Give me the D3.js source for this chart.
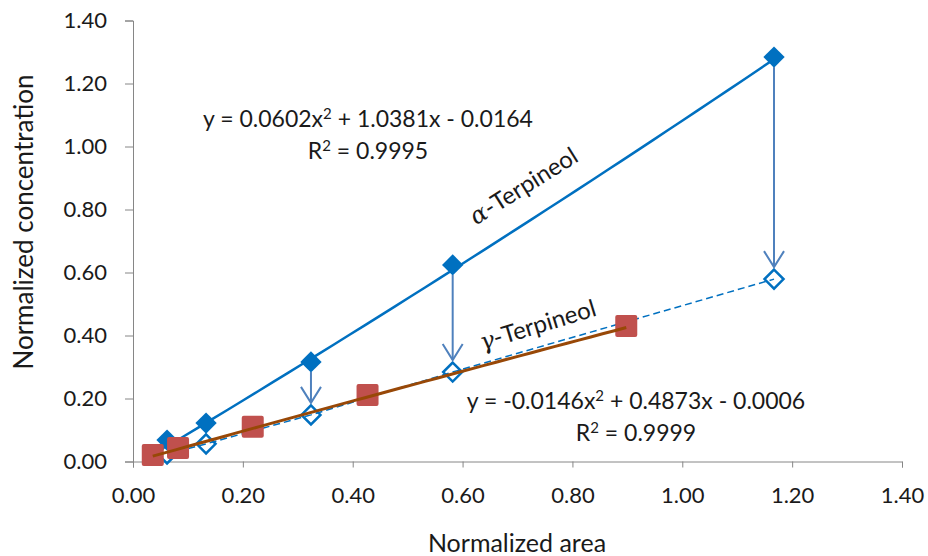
<!DOCTYPE html>
<html>
<head>
<meta charset="utf-8">
<script src="https://cdn.jsdelivr.net/npm/d3@7"></script>
<style>
  body { margin: 0; background: #fff; }
  text { font-family: Lato, "Open Sans", sans-serif; fill: #1a1a1a; }
  .axis path, .axis line { stroke: #868686; }
</style>
</head>
<body>
<div class="canvas"></div>
<script>
// DATA
const xTicks = [0, 0.2, 0.4, 0.6, 0.8, 1.0, 1.2, 1.4];
const yTicks = [0, 0.2, 0.4, 0.6, 0.8, 1.0, 1.2, 1.4];

// alpha-Terpineol: filled diamonds (before) and open diamonds (after)
const areaAlpha = [0.062, 0.133, 0.324, 0.582, 1.167];
const concAlpha = [0.068, 0.122, 0.316, 0.624, 1.284];
const concAlphaShift = [0.024, 0.056, 0.148, 0.284, 0.579];
const arrowIdx = [2, 3, 4];

// gamma-Terpineol: red squares
const areaGamma = [0.036, 0.082, 0.218, 0.427, 0.898];
const concGamma = [0.021, 0.043, 0.110, 0.211, 0.430];

// trendline coefficients as printed (a x^2 + b x + c)
const fitAlpha = [0.0602, 1.0381, -0.0164];
const fitGamma = [-0.0146, 0.4873, -0.0006];

const W = 928, H = 556;

const svg = d3.select(".canvas")
.append("svg")
.attr("width", W)
.attr("height", H);

// SCALES
const xScale = d3.scaleLinear().domain([0, 1.4]).range([133, 902]);
const yScale = d3.scaleLinear().domain([0, 1.4]).range([461.5, 20.5]);
const fmt = d3.format(".2f");

// AXES
const xAxis = svg.append("g")
.attr("class", "axis")
.attr("transform", `translate(0,${yScale(0)})`)
.call(d3.axisBottom(xScale).tickValues(xTicks).tickFormat(fmt).tickSizeOuter(0).tickSize(6));
xAxis.selectAll("text")
.attr("y", 41).attr("dy", 0)
.style("font-size", "22px");

const yAxis = svg.append("g")
.attr("class", "axis")
.attr("transform", `translate(${xScale(0)},0)`)
.call(d3.axisLeft(yScale).tickValues(yTicks).tickFormat(fmt).tickSizeOuter(0).tickSize(8));
yAxis.selectAll("text")
.attr("x", -26)
.style("font-size", "22px");
svg.selectAll(".axis text").attr("fill", "#1a1a1a");
svg.selectAll(".axis .domain").attr("stroke", "#868686");

// axis titles
svg.append("text")
.attr("x", 517).attr("y", 552)
.attr("text-anchor", "middle")
.style("font-size", "25px")
.text("Normalized area");

svg.append("text")
.attr("transform", "translate(33,222) rotate(-90)")
.attr("text-anchor", "middle")
.style("font-size", "26px")
.text("Normalized concentration");

const trend = (c, x0, x1) => d3.range(0, 41).map(i => {
    const x = x0 + (x1 - x0) * i / 40;
    return [x, c[0] * x * x + c[1] * x + c[2]];
});
const line = d3.line().x(d => xScale(d[0])).y(d => yScale(d[1]));

// dashed line through shifted alpha points
svg.append("path")
.datum(areaAlpha.map((x, i) => [x, concAlphaShift[i]]))
.attr("d", line)
.attr("fill", "none")
.attr("stroke", "#0070C0")
.attr("stroke-width", 1.5)
.attr("stroke-dasharray", "7,4");

// open diamonds
const diamond = d3.symbol().type(d3.symbolDiamond2);
svg.selectAll(".open")
.data(areaAlpha.map((x, i) => [x, concAlphaShift[i]]))
.enter()
.append("path")
    .attr("class", "open")
    .attr("transform", d => `translate(${xScale(d[0])},${yScale(d[1])})`)
    .attr("d", diamond.size(230))
    .attr("fill", "none")
    .attr("stroke", "#0070C0")
    .attr("stroke-width", 2.5);

// alpha trendline
svg.append("path")
.datum(trend(fitAlpha, d3.min(areaAlpha), d3.max(areaAlpha)))
.attr("d", line)
.attr("fill", "none")
.attr("stroke", "#0070C0")
.attr("stroke-width", 2.5);

// filled diamonds
svg.selectAll(".filled")
.data(areaAlpha.map((x, i) => [x, concAlpha[i]]))
.enter()
.append("path")
    .attr("class", "filled")
    .attr("transform", d => `translate(${xScale(d[0])},${yScale(d[1])})`)
    .attr("d", diamond.size(290))
    .attr("fill", "#0070C0");

// red squares
svg.selectAll(".sq")
.data(areaGamma.map((x, i) => [x, concGamma[i]]))
.enter()
.append("rect")
    .attr("class", "sq")
    .attr("x", d => xScale(d[0]) - 11)
    .attr("y", d => yScale(d[1]) - 11)
    .attr("width", 22)
    .attr("height", 22)
    .attr("rx", 2)
    .attr("fill", "#C0504D");

// gamma trendline
svg.append("path")
.datum(trend(fitGamma, d3.min(areaGamma), d3.max(areaGamma)))
.attr("d", line)
.attr("fill", "none")
.attr("stroke", "#984807")
.attr("stroke-width", 3);

// arrows from filled to open diamonds
const arrows = svg.selectAll(".arrow")
.data(arrowIdx)
.enter()
.append("g")
    .attr("class", "arrow")
    .attr("fill", "none")
    .attr("stroke", "#4F81BD")
    .attr("stroke-width", 2);
arrows.append("line")
    .attr("x1", i => xScale(areaAlpha[i]))
    .attr("x2", i => xScale(areaAlpha[i]))
    .attr("y1", i => yScale(concAlpha[i]) + 10)
    .attr("y2", i => yScale(concAlphaShift[i]) - 12);
arrows.append("path")
    .attr("d", i => {
        const x = xScale(areaAlpha[i]), y = yScale(concAlphaShift[i]) - 12;
        return `M${x - 10},${y - 16}L${x},${y}L${x + 10},${y - 16}`;
    });

// series labels
const greek = (sel, g) => {
    sel.append("tspan")
    .style("font-family", "'DejaVu Serif', serif")
    .style("font-style", "italic")
    .text(g);
    sel.append("tspan").text("-Terpineol");
};
svg.append("text")
.attr("transform", "translate(528,193) rotate(-32)")
.attr("text-anchor", "middle")
.style("font-size", "24px")
.call(greek, "α");

svg.append("text")
.attr("transform", "translate(540,333) rotate(-17)")
.attr("text-anchor", "middle")
.style("font-size", "24px")
.call(greek, "γ");

// trendline equations
const eq = (x, y, c, r2) => {
    const t1 = svg.append("text")
    .attr("x", x).attr("y", y)
    .attr("text-anchor", "middle")
    .style("font-size", "23px");
    const s = v => (v < 0 ? " - " : " + ") + Math.abs(v).toFixed(4);
    t1.append("tspan").text(`y = ${c[0].toFixed(4)}x`);
    t1.append("tspan").attr("dy", -8).style("font-size", "15px").text("2");
    t1.append("tspan").attr("dy", 8).text(`${s(c[1])}x${s(c[2])}`);
    const t2 = svg.append("text")
    .attr("x", x).attr("y", y + 32)
    .attr("text-anchor", "middle")
    .style("font-size", "23px");
    t2.append("tspan").text("R");
    t2.append("tspan").attr("dy", -8).style("font-size", "15px").text("2");
    t2.append("tspan").attr("dy", 8).text(` = ${r2}`);
};
eq(368, 127, fitAlpha, "0.9995");
eq(636, 409, fitGamma, "0.9999");
</script>
</body>
</html>
